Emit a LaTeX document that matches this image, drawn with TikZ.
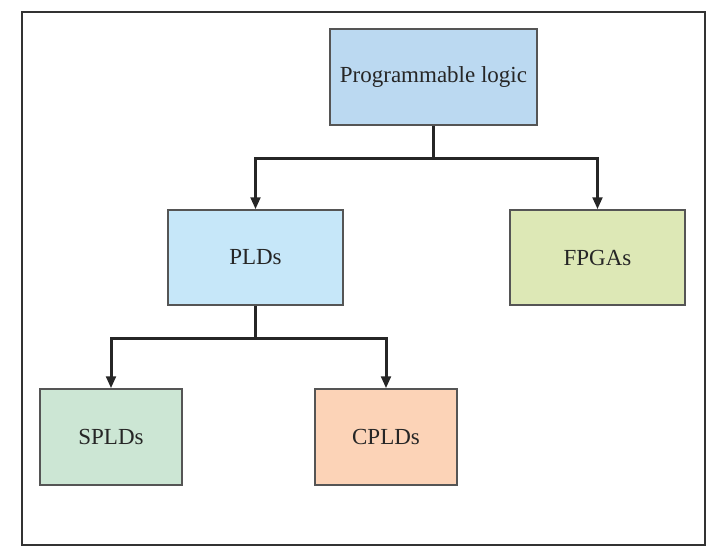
\documentclass[tikz,border=0pt]{standalone}
\usepackage{fontspec}
\setmainfont{Liberation Serif}
\usetikzlibrary{arrows.meta}

\definecolor{topblue}{HTML}{BBD9F1}
\definecolor{pldblue}{HTML}{C6E7F9}
\definecolor{fpgagreen}{HTML}{DDE8B6}
\definecolor{spldgreen}{HTML}{CCE6D4}
\definecolor{cpldorange}{HTML}{FCD3B7}
\definecolor{boxline}{HTML}{555555}

\tikzset{
    box/.style={draw=boxline, line width=0.7pt, inner sep=0pt,
        font=\fontsize{11.5}{13}\selectfont, text=black!85},
    link/.style={line width=1.5pt, black!85},
}

\begin{document}
\begin{tikzpicture}[x=0.5pt, y=-0.5pt, >={Triangle[length=6pt,width=4.8pt]}]
    \useasboundingbox (0,0) rectangle (724,557);
    \draw[line width=1pt, black!80] (22,12) rectangle (705,545);

    \node[box, fill=topblue, minimum width=103.5pt, minimum height=48pt]
        (pl) at (433.5,77) {Programmable logic};
    \node[box, fill=pldblue, minimum width=87.5pt, minimum height=47.5pt]
        (plds) at (255.5,257.5) {PLDs};
    \node[box, fill=fpgagreen, minimum width=87.5pt, minimum height=47.5pt]
        (fpgas) at (597.5,257.5) {FPGAs};
    \node[box, fill=spldgreen, minimum width=71pt, minimum height=48pt]
        (splds) at (111,437) {SPLDs};
    \node[box, fill=cpldorange, minimum width=71pt, minimum height=48pt]
        (cplds) at (386,437) {CPLDs};

    \coordinate (topjoin) at (433.5,158);
    \coordinate (pldjoin) at (255.5,338);

    \draw[link] (pl.south) -- (topjoin);
    \draw[link, ->] (topjoin) -| (plds.north);
    \draw[link, ->] (topjoin) -| (fpgas.north);

    \draw[link] (plds.south) -- (pldjoin);
    \draw[link, ->] (pldjoin) -| (splds.north);
    \draw[link, ->] (pldjoin) -| (cplds.north);
\end{tikzpicture}
\end{document}
